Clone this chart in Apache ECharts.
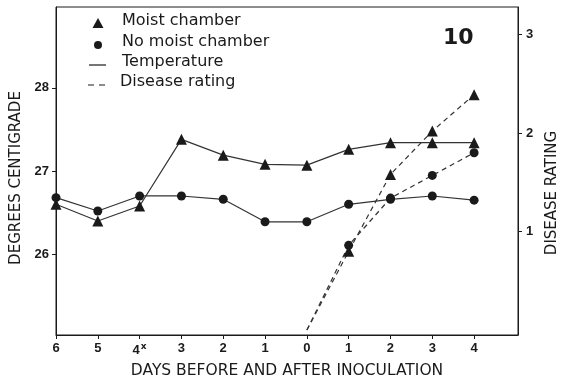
<!DOCTYPE html>
<html>
<head>
<meta charset="utf-8">
<script src="https://cdn.jsdelivr.net/npm/echarts@6/dist/echarts.min.js"></script>
<style>html,body{margin:0;padding:0;background:#fff}#c{width:568px;height:384px}</style>
</head>
<body>
<div id="c"></div>
<script>
// Tick labels for the day axis (6 days before ... 4 days after inoculation)
var dayLabels = ['6', '5', '4', '3', '2', '1', '0', '1', '2', '3', '4'];
var dayPositions = [0, 1, 2, 3, 4, 5, 6, 7, 8, 9, 10];
// Temperature (degrees C)
var tempMoist = [26.60, 26.40, 26.58, 27.38, 27.19, 27.08, 27.07, 27.26, 27.34, 27.34, 27.34];
var tempDry = [26.68, 26.52, 26.70, 26.70, 26.66, 26.39, 26.39, 26.60, 26.66, 26.70, 26.65];
// Disease rating, from day 0 after inoculation
var diseaseDays = [6, 7, 8, 9, 10];
var diseaseMoist = [0, 0.80, 1.58, 2.02, 2.39];
var diseaseDry = [0, 0.86, 1.34, 1.57, 1.80];
var tempTicks = [26, 27, 28];
var ratingTicks = [1, 2, 3];

var ink = '#1a1a1a';
var numFont = '"Liberation Sans Narrow","Liberation Sans",sans-serif';

function pairs(xs, ys, firstNone) {
  return ys.map(function (v, i) {
    var d = {value: [xs[i], v]};
    if (firstNone && i === 0) d.symbol = 'none';
    return d;
  });
}

var chart = echarts.init(document.getElementById('c'));
chart.setOption({
  animation: false,
  grid: {left: 56, right: 50, top: 7, bottom: 48, show: true, borderColor: ink, borderWidth: 1},
  xAxis: {
    type: 'value', min: 0, max: 11.05,
    axisLine: {show: true, onZero: false, lineStyle: {color: ink, width: 1}},
    axisTick: {show: true, customValues: dayPositions, length: 4, lineStyle: {color: ink}},
    axisLabel: {
      customValues: dayPositions, margin: 7,
      fontFamily: numFont, fontWeight: 'bold', fontSize: 13, color: ink,
      formatter: function (v) { var s = dayLabels[Math.round(v)]; return Math.round(v) === 2 ? s + '{s|x}' : s; },
      rich: {s: {fontSize: 9, verticalAlign: 'top', padding: [0, 0, 8, 1], color: ink, fontFamily: 'DejaVu Sans'}}
    },
    splitLine: {show: false},
    name: 'DAYS BEFORE AND AFTER INOCULATION', nameLocation: 'middle', nameGap: 28,
    nameTextStyle: {fontFamily: 'DejaVu Sans', fontSize: 15.5, color: ink}
  },
  yAxis: [{
    type: 'value', min: 25.03, max: 28.97, position: 'left',
    axisLine: {show: true, onZero: false, lineStyle: {color: ink, width: 1}},
    axisTick: {show: true, customValues: tempTicks, length: 4, lineStyle: {color: ink}},
    axisLabel: {customValues: tempTicks, margin: 7, fontFamily: numFont, fontWeight: 'bold', fontSize: 13, color: ink},
    splitLine: {show: false},
    name: 'DEGREES CENTIGRADE', nameLocation: 'middle', nameGap: 25,
    nameTextStyle: {fontFamily: 'DejaVu Sans', fontSize: 15, color: ink, padding: [0, 14, 0, 0]}
  }, {
    type: 'value', min: -0.05, max: 3.28, position: 'right',
    axisLine: {show: true, onZero: false, lineStyle: {color: ink, width: 1}},
    axisTick: {show: true, customValues: ratingTicks, length: 4, lineStyle: {color: ink}},
    axisLabel: {customValues: ratingTicks, margin: 8, fontFamily: numFont, fontWeight: 'bold', fontSize: 13, color: ink},
    splitLine: {show: false},
    name: 'DISEASE RATING', nameLocation: 'middle', nameGap: 24, nameRotate: 90,
    nameTextStyle: {fontFamily: 'DejaVu Sans', fontSize: 15, color: ink, padding: [0, 44, 0, 0]}
  }],
  series: [{
    name: 'Moist chamber temperature', type: 'line', yAxisIndex: 0,
    data: pairs(dayPositions, tempMoist), symbol: 'triangle', symbolSize: 11,
    itemStyle: {color: ink}, lineStyle: {color: '#333', width: 1.2}
  }, {
    name: 'No moist chamber temperature', type: 'line', yAxisIndex: 0,
    data: pairs(dayPositions, tempDry), symbol: 'circle', symbolSize: 9,
    itemStyle: {color: ink}, lineStyle: {color: '#333', width: 1.2}
  }, {
    name: 'Moist chamber disease', type: 'line', yAxisIndex: 1,
    data: pairs(diseaseDays, diseaseMoist, true), symbol: 'triangle', symbolSize: 11,
    itemStyle: {color: ink}, lineStyle: {color: '#333', width: 1.2, type: [5, 4]}
  }, {
    name: 'No moist chamber disease', type: 'line', yAxisIndex: 1,
    data: pairs(diseaseDays, diseaseDry, true), symbol: 'circle', symbolSize: 9,
    itemStyle: {color: ink}, lineStyle: {color: '#333', width: 1.2, type: [5, 4]}
  }],
  graphic: [
    {type: 'polygon', shape: {points: [[98, 18], [92.5, 28], [103.5, 28]]}, style: {fill: ink}},
    {type: 'text', left: 122, top: 13, style: {text: 'Moist chamber', font: '16px "DejaVu Sans"', fill: ink}},
    {type: 'circle', shape: {cx: 98, cy: 45, r: 4}, style: {fill: ink}},
    {type: 'text', left: 122, top: 34, style: {text: 'No moist chamber', font: '16px "DejaVu Sans"', fill: ink}},
    {type: 'line', shape: {x1: 89, y1: 65, x2: 106, y2: 65}, style: {stroke: ink, lineWidth: 1.2}},
    {type: 'text', left: 122, top: 54, style: {text: 'Temperature', font: '16px "DejaVu Sans"', fill: ink}},
    {type: 'line', shape: {x1: 88, y1: 85, x2: 110, y2: 85}, style: {stroke: ink, lineWidth: 1.2, lineDash: [6, 5]}},
    {type: 'text', left: 120, top: 74, style: {text: 'Disease rating', font: '16px "DejaVu Sans"', fill: ink}},
    {type: 'text', left: 443, top: 27, style: {text: '10', font: '600 22px "DejaVu Sans"', fill: ink}}
  ]
});
</script>
</body>
</html>
